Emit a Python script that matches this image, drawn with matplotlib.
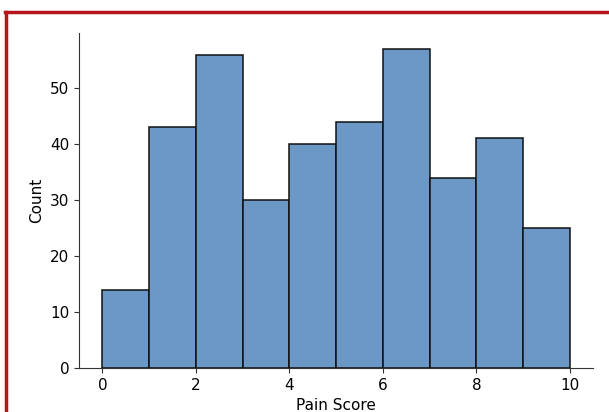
import matplotlib
matplotlib.use("Agg")
import matplotlib.pyplot as plt
from matplotlib.lines import Line2D

# Histogram bins (pain score 0..10) and counts per bin
bin_edges = [0, 1, 2, 3, 4, 5, 6, 7, 8, 9, 10]
counts = [14, 43, 56, 30, 40, 44, 57, 34, 41, 25]
x_ticks = [0, 2, 4, 6, 8, 10]
y_ticks = [0, 10, 20, 30, 40, 50]

fig = plt.figure(figsize=(6.09, 4.12), dpi=100)
ax = fig.add_axes([0.1297, 0.1068, 0.8447, 0.8132])

lefts = bin_edges[:-1]
widths = [b - a for a, b in zip(bin_edges[:-1], bin_edges[1:])]
ax.bar(lefts, counts, width=widths, align='edge', color='#6b98c6',
       edgecolor='#111111', linewidth=1.1)

ax.set_xlim(-0.5, 10.5)
ax.set_ylim(0, 59.85)
ax.set_xticks(x_ticks)
ax.set_yticks(y_ticks)
ax.tick_params(axis='both', labelsize=11, color='#333333')
ax.set_xlabel('Pain Score', fontsize=11)
ax.set_ylabel('Count', fontsize=11)
for side in ('top', 'right'):
    ax.spines[side].set_visible(False)
for side in ('left', 'bottom'):
    ax.spines[side].set_color('#333333')

# red frame around the figure (only top and left visible in the crop)
red = '#b5151b'
fig.add_artist(Line2D([0.0082, 1.0], [0.9709, 0.9709], color=red, linewidth=2.5,
                      transform=fig.transFigure))
fig.add_artist(Line2D([0.0098, 0.0098], [0.0, 0.9709], color=red, linewidth=2.5,
                      transform=fig.transFigure))

fig.savefig('out.png', dpi=100)
